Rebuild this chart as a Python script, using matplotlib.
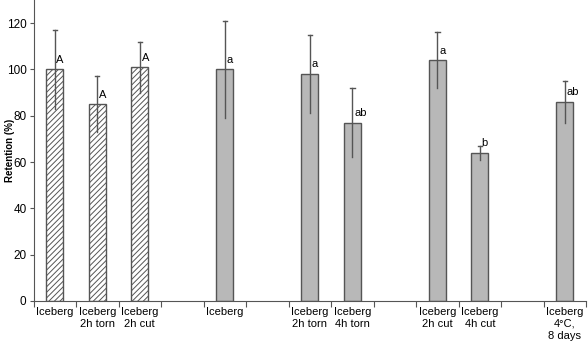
import matplotlib
matplotlib.use('Agg')
import matplotlib.pyplot as plt
import numpy as np

# category labels, one per slot (empty slots are gaps)
labels = ['Iceberg', 'Iceberg\n2h torn', 'Iceberg\n2h cut', '',
          'Iceberg', '', 'Iceberg\n2h torn', 'Iceberg\n4h torn', '',
          'Iceberg\n2h cut', 'Iceberg\n4h cut', '', 'Iceberg\n4°C,\n8 days']

hatch_pos = [0, 1, 2]
hatch_vals = [100, 85, 101]
hatch_err = [17, 12, 11]
hatch_letters = ['A', 'A', 'A']

gray_pos = [4, 6, 7, 9, 10, 12]
gray_vals = [100, 98, 77, 104, 64, 86]
gray_err = [21, 17, 15, 12, 3, 9]
gray_letters = ['a', 'a', 'ab', 'a', 'b', 'ab']

plt.rcParams['font.family'] = ['Liberation Sans', 'DejaVu Sans']
plt.rcParams['hatch.linewidth'] = 0.7
plt.rcParams['hatch.color'] = '#444444'

fig = plt.figure(figsize=(5.88, 3.42), dpi=100)
ax = fig.add_axes([0.057, 0.12, 0.94, 0.88])

ec = '#555555'
xh = np.array(hatch_pos) + 0.5
xg = np.array(gray_pos) + 0.5

ax.bar(xh, hatch_vals, width=0.4, color='white', edgecolor=ec, hatch='//////', linewidth=1)
ax.bar(xg, gray_vals, width=0.4, color='#b8b8b8', edgecolor=ec, linewidth=1)

# error bars: line through full range, cap only on top
for x, v, e in list(zip(xh, hatch_vals, hatch_err)) + list(zip(xg, gray_vals, gray_err)):
    ax.plot([x, x], [v - e, v + e], color=ec, lw=1)
    ax.plot([x - 0.05, x + 0.05], [v + e, v + e], color=ec, lw=1)

for x, v, t in list(zip(xh, hatch_vals, hatch_letters)) + list(zip(xg, gray_vals, gray_letters)):
    ax.text(x + 0.04, v + 2, t, ha='left', va='bottom', fontsize=8)

ax.set_xlim(0, 13)
ax.set_ylim(0, 130)
ax.set_yticks([0, 20, 40, 60, 80, 100, 120])
ax.set_xticks(np.arange(13) + 0.5)
ax.set_xticklabels(labels, fontsize=8, linespacing=1.3)
ax.set_xticks(np.arange(14), minor=True)
ax.tick_params(axis='x', which='major', length=0, pad=4)
ax.tick_params(axis='x', which='minor', length=4, width=0.8, color=ec)
ax.tick_params(axis='y', labelsize=8.5, length=3, width=0.8, color=ec, pad=2)
ax.set_ylabel('Retention (%)', fontsize=7, fontweight='bold')
ax.yaxis.set_label_coords(-0.034, 0.5)

ax.spines['top'].set_visible(False)
ax.spines['right'].set_visible(False)
ax.spines['left'].set_color(ec)
ax.spines['bottom'].set_color(ec)

fig.savefig('out.png', dpi=100)
